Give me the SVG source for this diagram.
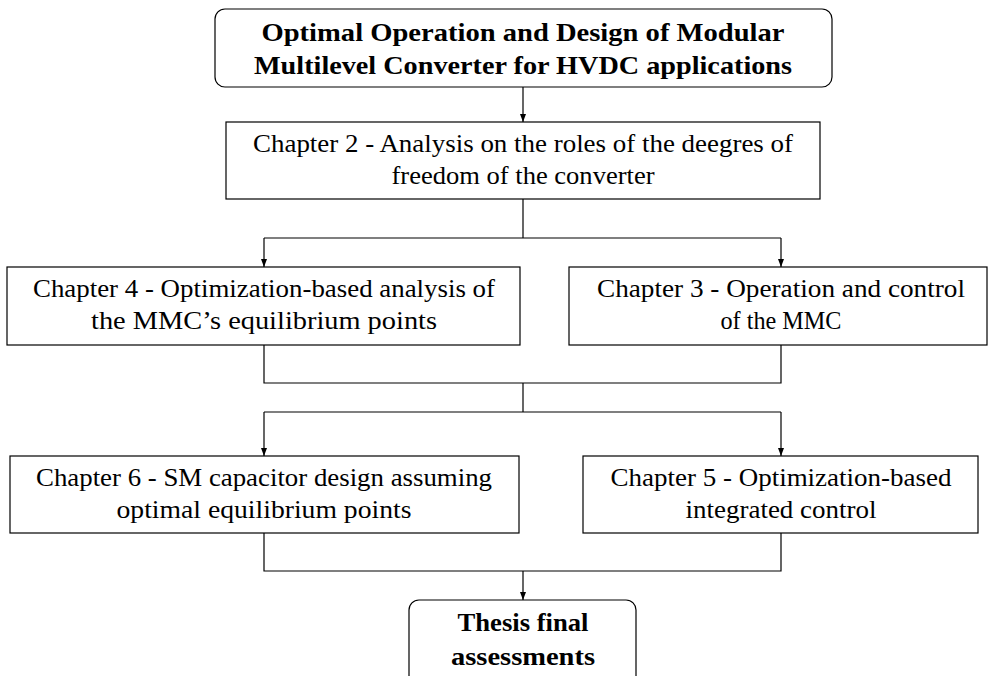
<svg xmlns="http://www.w3.org/2000/svg" width="989" height="676" viewBox="0 0 989 676">
<style>
.box{fill:#fff;stroke:#000;stroke-width:1.2}
.t{font-family:"Liberation Serif","DejaVu Serif",serif;font-size:26px;fill:#000;text-anchor:middle}
.b{font-weight:bold}
.c{fill:none;stroke:#000;stroke-width:1.2}
</style>
<defs>
<marker id="ah" viewBox="0 0 8 6" refX="8" refY="3" markerWidth="8" markerHeight="6" markerUnits="userSpaceOnUse" orient="auto">
<path d="M0,0 L8,3 L0,6 z" fill="#000"/>
</marker>
</defs>
<rect width="989" height="676" fill="#fff"/>
<g id="connectors">
<path class="c" d="M523,87 V122" marker-end="url(#ah)"/>
<path class="c" d="M523,199 V238"/>
<path class="c" d="M264,238 H781"/>
<path class="c" d="M264,238 V267" marker-end="url(#ah)"/>
<path class="c" d="M781,238 V267" marker-end="url(#ah)"/>
<path class="c" d="M264,345 V383 H781 V345"/>
<path class="c" d="M523,383 V412"/>
<path class="c" d="M264,412 H781"/>
<path class="c" d="M264,412 V456" marker-end="url(#ah)"/>
<path class="c" d="M781,412 V456" marker-end="url(#ah)"/>
<path class="c" d="M264,533 V571 H781 V533"/>
<path class="c" d="M523,571 V600" marker-end="url(#ah)"/>
</g>
<g id="title">
<rect class="box" x="215" y="9" width="617" height="78" rx="10"/>
<text class="t b" x="523" y="41" textLength="523" lengthAdjust="spacingAndGlyphs">Optimal Operation and Design of Modular</text>
<text class="t b" x="523" y="74" textLength="538" lengthAdjust="spacingAndGlyphs">Multilevel Converter for HVDC applications</text>
</g>
<g id="ch2">
<rect class="box" x="226" y="122" width="594" height="77"/>
<text class="t" x="523" y="152" textLength="540" lengthAdjust="spacingAndGlyphs">Chapter 2 - Analysis on the roles of the deegres of</text>
<text class="t" x="523" y="184" textLength="263" lengthAdjust="spacingAndGlyphs">freedom of the converter</text>
</g>
<g id="ch4">
<rect class="box" x="7" y="267" width="513" height="78"/>
<text class="t" x="264" y="297" textLength="462" lengthAdjust="spacingAndGlyphs">Chapter 4 - Optimization-based analysis of</text>
<text class="t" x="264" y="329" textLength="346" lengthAdjust="spacingAndGlyphs">the MMC’s equilibrium points</text>
</g>
<g id="ch3">
<rect class="box" x="569" y="267" width="418" height="78"/>
<text class="t" x="781" y="297" textLength="368" lengthAdjust="spacingAndGlyphs">Chapter 3 - Operation and control</text>
<text class="t" x="781" y="329" textLength="121" lengthAdjust="spacingAndGlyphs">of the MMC</text>
</g>
<g id="ch6">
<rect class="box" x="10" y="456" width="509" height="77"/>
<text class="t" x="264" y="486" textLength="456" lengthAdjust="spacingAndGlyphs">Chapter 6 - SM capacitor design assuming</text>
<text class="t" x="264" y="518" textLength="295" lengthAdjust="spacingAndGlyphs">optimal equilibrium points</text>
</g>
<g id="ch5">
<rect class="box" x="583" y="456" width="395" height="77"/>
<text class="t" x="781" y="486" textLength="341" lengthAdjust="spacingAndGlyphs">Chapter 5 - Optimization-based</text>
<text class="t" x="781" y="518" textLength="191" lengthAdjust="spacingAndGlyphs">integrated control</text>
</g>
<g id="thesis">
<rect class="box" x="409" y="600" width="227" height="90" rx="10"/>
<text class="t b" x="523" y="631" textLength="131" lengthAdjust="spacingAndGlyphs">Thesis final</text>
<text class="t b" x="523" y="665" textLength="144" lengthAdjust="spacingAndGlyphs">assessments</text>
</g>
</svg>
